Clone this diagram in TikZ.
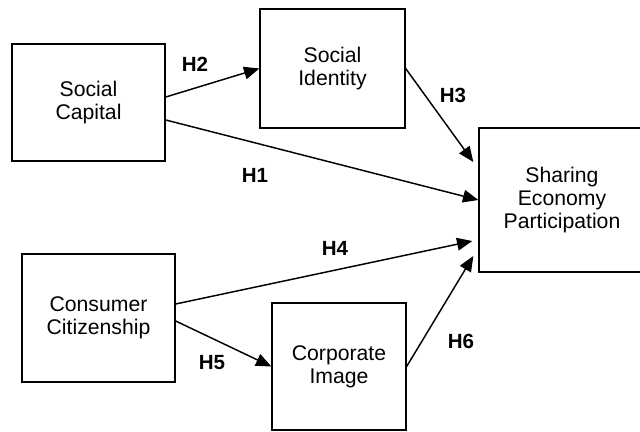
\documentclass[tikz,border=0pt]{standalone}
\usepackage{fontspec}
\setmainfont{Liberation Sans}
\usetikzlibrary{arrows.meta}
\begin{document}
\begin{tikzpicture}
[x=0.75pt,y=-0.75pt,
  boxdecorate/.style={shape=rectangle,draw,line width=1pt,align=center,
    font=\fontsize{15.9}{17.3}\selectfont,inner sep=0pt},%
  linedecorate/.style={-{Triangle[length=11.5pt,width=9.5pt]},line width=1.1pt},%
  labeldecorate/.style={font=\fontsize{15.4}{17}\selectfont\bfseries}]
\clip (0,0) rectangle (640,432);
\useasboundingbox (0,0) rectangle (640,432);
%% boxes
\foreach \nodename/\x/\y/\w/\h/\txt in {
  SC/88.5/102.5/114.75/87.75/{Social\\Capital},
  SI/332.5/68.5/108.75/89.25/{Social\\Identity},
  SE/562/200/124.5/108/{Sharing\\Economy\\Participation},
  CC/98.5/318/114.75/96/{Consumer\\Citizenship},
  CI/339/366.5/100.5/95.25/{Corporate\\Image}} {
  \node (\nodename) at (\x,\y) [boxdecorate,minimum width=\w pt,minimum height=\h pt] {\txt};
}
%% end points on the box sides
\coordinate (SCa) at ([yshift=4.1pt]SC.east);
\coordinate (SCb) at ([yshift=-13.1pt]SC.east);
\coordinate (CCa) at ([yshift=10.5pt]CC.east);
\coordinate (CCb) at ([yshift=-2.25pt]CC.east);
\coordinate (SEa) at ([xshift=-3.75pt,yshift=28.5pt]SE.west);
\coordinate (SEb) at ([xshift=-4.5pt,yshift=-30.75pt]SE.west);
\coordinate (SEc) at ([xshift=-3.75pt,yshift=-42pt]SE.west);
%% paths
\path
\foreach \startnode/\endnode in {SCa/SI.west, SCb/SE.west, SI.east/SEa,
  CCa/SEb, CCb/CI.west, CI.east/SEc} {
  (\startnode) edge[linedecorate] (\endnode)
};
%% hypothesis labels
\foreach \labelname/\x/\y/\txt in {h2/195/64/H2, h1/255/175/H1, h3/453/95/H3,
  h4/335/248/H4, h5/212/363/H5, h6/461/341/H6} {
  \node (\labelname) at (\x,\y) [labeldecorate] {\txt};
}
\end{tikzpicture}
\end{document}
